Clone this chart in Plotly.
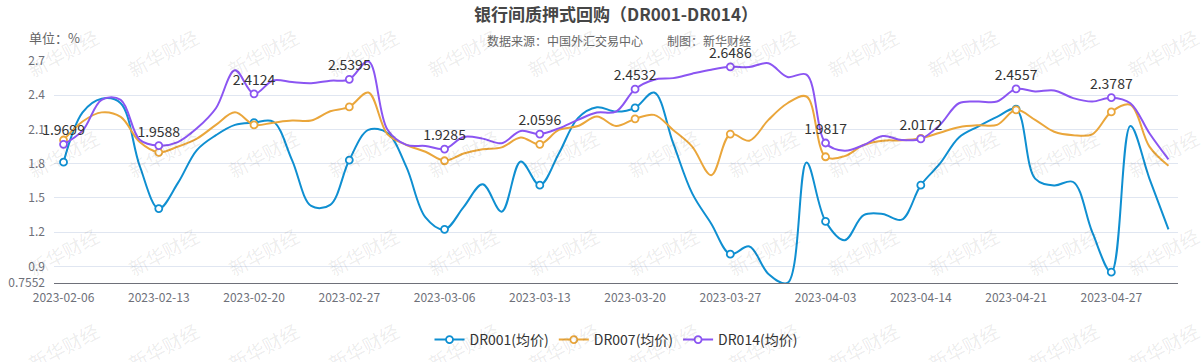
import plotly.graph_objects as go

dates = ["2023-02-06", "2023-02-07", "2023-02-08", "2023-02-09", "2023-02-10",
         "2023-02-13", "2023-02-14", "2023-02-15", "2023-02-16", "2023-02-17",
         "2023-02-20", "2023-02-21", "2023-02-22", "2023-02-23", "2023-02-24",
         "2023-02-27", "2023-02-28", "2023-03-01", "2023-03-02", "2023-03-03",
         "2023-03-06", "2023-03-07", "2023-03-08", "2023-03-09", "2023-03-10",
         "2023-03-13", "2023-03-14", "2023-03-15", "2023-03-16", "2023-03-17",
         "2023-03-20", "2023-03-21", "2023-03-22", "2023-03-23", "2023-03-24",
         "2023-03-27", "2023-03-28", "2023-03-29", "2023-03-30", "2023-03-31",
         "2023-04-03", "2023-04-04", "2023-04-06", "2023-04-07", "2023-04-10",
         "2023-04-14", "2023-04-17", "2023-04-18", "2023-04-19", "2023-04-20",
         "2023-04-21", "2023-04-23", "2023-04-24", "2023-04-25", "2023-04-26",
         "2023-04-27", "2023-04-28", "2023-05-04", "2023-05-05"]

dr001 = [1.814, 2.25, 2.37, 2.33, 1.78, 1.407, 1.63, 1.92, 2.05, 2.14,
         2.16, 2.17, 1.83, 1.43, 1.44, 1.832, 2.096, 2.07, 1.77, 1.33,
         1.225, 1.42, 1.62, 1.38, 1.82, 1.612, 1.89, 2.20, 2.295, 2.257,
         2.29, 2.424, 1.98, 1.54, 1.275, 1.008, 1.075, 0.835, 0.7552, 1.81,
         1.295, 1.13, 1.35, 1.36, 1.31, 1.612, 1.80, 2.03, 2.125, 2.21,
         2.278, 1.67, 1.61, 1.64, 1.20, 0.85, 2.13, 1.67, 1.225]

dr007 = [2.008, 2.17, 2.25, 2.21, 1.99, 1.90, 1.95, 2.02, 2.14, 2.25,
         2.14, 2.16, 2.178, 2.178, 2.26, 2.298, 2.424, 2.06, 1.964, 1.905,
         1.826, 1.89, 1.926, 1.943, 2.03, 1.97, 2.096, 2.13, 2.213, 2.13,
         2.193, 2.228, 2.096, 1.95, 1.70, 2.06, 2.002, 2.184, 2.33, 2.389,
         1.861, 1.867, 1.964, 2.002, 2.005, 2.023, 2.072, 2.12, 2.137, 2.14,
         2.272, 2.184, 2.08, 2.05, 2.058, 2.254, 2.316, 1.95, 1.782]

dr014 = [1.9699, 2.09, 2.36, 2.36, 2.01, 1.9588, 1.99, 2.11, 2.286, 2.618,
         2.4124, 2.53, 2.515, 2.506, 2.527, 2.5395, 2.697, 2.10, 1.965, 1.956,
         1.9285, 2.035, 2.02, 1.98, 2.087, 2.0596, 2.11, 2.184, 2.248, 2.257,
         2.4532, 2.536, 2.55, 2.589, 2.624, 2.6486, 2.647, 2.68, 2.56, 2.58,
         1.9817, 1.914, 1.964, 2.043, 2.008, 2.0172, 2.14, 2.33, 2.345, 2.345,
         2.4557, 2.433, 2.442, 2.375, 2.345, 2.3787, 2.33, 2.067, 1.838]

series_names = ["DR001(均价)", "DR007(均价)", "DR014(均价)"]
series_colors = ["#0f8fd1", "#eaa63b", "#8b55f2"]
y_ticks = [0.7552, 0.9, 1.2, 1.5, 1.8, 2.1, 2.4, 2.7]
y_ticktext = ["0.7552", "0.9", "1.2", "1.5", "1.8", "2.1", "2.4", "2.7"]

STEP = 5
FONT = "Noto Sans CJK SC, Microsoft YaHei, sans-serif"

fig = go.Figure()
n = len(dates)
for vals, name, col, labelled in zip([dr001, dr007, dr014], series_names, series_colors,
                                     [False, False, True]):
    shown = [i % STEP == 0 for i in range(n)]
    text = [f"{v:.4f}" if (labelled and s) else "" for v, s in zip(vals, shown)]
    fig.add_trace(go.Scatter(
        x=dates, y=vals, name=name,
        mode="lines+markers+text" if labelled else "lines+markers",
        line=dict(color=col, width=2, shape="spline", smoothing=1.0),
        marker=dict(size=7, symbol="circle",
                    color=["white" if s else "rgba(0,0,0,0)" for s in shown],
                    line=dict(color=[col if s else "rgba(0,0,0,0)" for s in shown], width=1.8)),
        text=text if labelled else None,
        textposition="top center",
        textfont=dict(size=14, color="#333333", family=FONT),
        cliponaxis=False,
    ))

W, H = 1202, 362
L, R, T, B = 54, 24, 61, 79
pw, ph = W - L - R, H - T - B

def px_to_paper(px, py):
    return (px - L) / pw, (H - B - py) / ph

def note(text, px, py, size, color, xanchor="center", angle=0, bold=False):
    ax, ay = px_to_paper(px, py)
    return dict(text=f"<b>{text}</b>" if bold else text, x=ax, y=ay,
                xref="paper", yref="paper", xanchor=xanchor, yanchor="middle",
                showarrow=False, textangle=angle,
                font=dict(size=size, color=color, family=FONT))

annotations = []
# watermark
for row_y in [53, 153, 251, 346]:
    for k in range(12):
        annotations.append(note("新华财经", 63 + 100 * k, row_y, 19, "rgba(0,0,0,0.085)", angle=-28))

annotations.append(note("银行间质押式回购（DR001-DR014）", L + pw / 2, 14, 17, "#464646", bold=True))
annotations.append(note("数据来源：中国外汇交易中心　　制图：新华财经", 619, 40, 12, "#666666"))
annotations.append(note("单位：%", 27, 38, 13, "#666666", xanchor="left"))

boundaries = [i - 0.5 for i in range(0, n, STEP)] + [n - 0.5]

fig.update_layout(
    width=W, height=H,
    margin=dict(l=L, r=R, t=T, b=B, autoexpand=False),
    paper_bgcolor="white", plot_bgcolor="white",
    font=dict(family=FONT, color="#333333"),
    showlegend=True,
    legend=dict(orientation="h", x=0.5, xanchor="center", y=px_to_paper(0, 340)[1],
                yanchor="middle", font=dict(size=14, color="#333333", family=FONT),
                itemwidth=30, bgcolor="rgba(0,0,0,0)"),
    xaxis=dict(type="category", range=[-0.5, n - 0.5], tickmode="array",
               tickvals=dates[::STEP], ticktext=dates[::STEP],
               showgrid=False, showline=True, linecolor="#6E7079", linewidth=1,
               ticks="", tickfont=dict(size=12, color="#6E7079", family=FONT),
               ticklabelstandoff=4, zeroline=False, fixedrange=True),
    xaxis2=dict(overlaying="x", anchor="y", side="bottom", range=[-0.5, n - 0.5],
                tickmode="array", tickvals=boundaries, ticks="outside", ticklen=5,
                tickcolor="#6E7079", showticklabels=False, showgrid=False,
                showline=False, zeroline=False),
    yaxis=dict(range=[0.7552, 2.7], tickmode="array", tickvals=y_ticks, ticktext=y_ticktext,
               showgrid=True, gridcolor="#E0E6F1", gridwidth=1, zeroline=False,
               showline=False, ticks="", tickfont=dict(size=12, color="#6E7079", family=FONT),
               ticklabelstandoff=8),
    annotations=annotations,
)

fig.write_html("out.html", config={"displayModeBar": False},
               post_script="document.body.style.margin='0px';")
